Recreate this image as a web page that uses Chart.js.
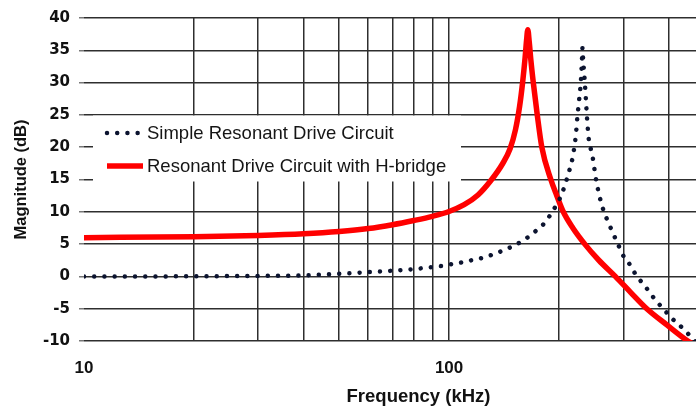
<!DOCTYPE html>
<html>
<head>
<meta charset="utf-8">
<script src="https://cdn.jsdelivr.net/npm/chart.js@4/dist/chart.umd.min.js"></script>
<style>
  html, body { margin: 0; padding: 0; background: #fff; overflow: hidden; width: 696px; height: 410px; }
  #wrap { position: relative; width: 753px; height: 410px; }
</style>
</head>
<body>
<div id="wrap"><canvas id="c" width="753" height="410"></canvas></div>
<script>
// Simple resonant drive circuit: frequency (kHz) and gain (dB)
const freqSimple = [10, 15, 20, 30, 40, 50, 60, 70, 80, 90, 96.3, 102.6, 109.2, 116.4, 124, 132, 140, 148.3, 157.2, 165.6, 174.2, 182.9, 190, 196, 202, 206.6, 210.5, 214.5, 217.8, 222.4, 224.5, 227, 229.5, 231, 232, 232.8, 235, 236.9, 238.8, 241.4, 244.5, 247.6, 252.3, 258.8, 264.2, 276.2, 291.1, 298.6, 311.3, 321.3, 331.5, 345.8, 359.9, 374.8, 392.4, 409.4, 426.7, 450.1, 467.4, 480];
const magSimple  = [0.0, 0.0, 0.02, 0.08, 0.15, 0.4, 0.65, 0.88, 1.13, 1.45, 1.64, 1.95, 2.2, 2.56, 2.9, 3.41, 3.97, 4.58, 5.34, 6.2, 7.2, 8.3, 9.65, 10.9, 12.3, 13.76, 15.2, 16.8, 18.3, 21.8, 24.5, 27.2, 30.0, 33.0, 35.4, 33.8, 30.7, 27.6, 24.4, 21.2, 19.7, 18.3, 15.2, 12.2, 10.4, 7.7, 4.8, 3.4, 2.0, 0.67, -0.4, -1.66, -3.0, -4.2, -5.46, -6.6, -7.5, -8.8, -9.8, -10.3];

// Resonant drive circuit with H-bridge
const freqHBridge = [10, 20, 30, 40, 50, 60, 70, 80, 90, 100, 110, 120, 130, 140, 147, 152, 156, 159, 161.5, 163, 164.3, 165.8, 167.5, 170.1, 174.4, 179.5, 190.0, 197.3, 205.5, 218.3, 235.4, 257.2, 285.3, 314.7, 348.0, 394.9, 450.8, 470];
const magHBridge  = [6.0, 6.15, 6.35, 6.6, 6.95, 7.4, 8.0, 8.65, 9.3, 10.05, 11.1, 12.6, 14.8, 17.4, 19.8, 22.7, 26.3, 30.0, 33.8, 36.5, 38.2, 36.3, 33.5, 30.0, 25.0, 20.0, 15.0, 12.5, 10.0, 7.5, 5.0, 2.5, 0.0, -2.5, -5.0, -7.5, -10.0, -10.6];

const seriesLabels = ['Simple Resonant Drive Circuit', 'Resonant Drive Circuit with H-bridge'];

// Axis ticks
const xTickValues = [10, 20, 30, 40, 50, 60, 70, 80, 90, 100, 200, 300, 400, 500, 600];
const xTickLabels = ['10', '100'];
const yTickMin = -10, yTickMax = 40, yTickStep = 5;

const toPoints = (xs, ys) => xs.map((x, i) => ({ x, y: ys[i] }));

const GRID = '#2e2e2e';
const DOT_COLOR = '#0c1430';
const RED = '#ff0000';

// White legend panel drawn over the grid inside the plot
const legendPanel = {
  id: 'legendPanel',
  beforeDatasetsDraw(chart) {
    const { ctx, chartArea } = chart;
    const left = chartArea.left, top = chartArea.top;
    const ds = chart.data.datasets;
    ctx.save();
    ctx.fillStyle = '#ffffff';
    ctx.fillRect(left + 9, top + 97.5, 368, 66);

    const sx0 = left + 23, tx = left + 63;
    // dotted entry
    ctx.beginPath();
    ctx.strokeStyle = ds[0].borderColor;
    ctx.lineWidth = ds[0].borderWidth;
    ctx.lineCap = 'round';
    ctx.setLineDash(ds[0].borderDash);
    ctx.moveTo(sx0, top + 115);
    ctx.lineTo(sx0 + 30.8, top + 115);
    ctx.stroke();
    // solid entry
    ctx.beginPath();
    ctx.setLineDash([]);
    ctx.lineCap = 'butt';
    ctx.strokeStyle = ds[1].borderColor;
    ctx.lineWidth = ds[1].borderWidth;
    ctx.moveTo(sx0, top + 148);
    ctx.lineTo(sx0 + 36, top + 148);
    ctx.stroke();

    ctx.fillStyle = '#151515';
    ctx.font = '18.5px "Liberation Sans", Arial, sans-serif';
    ctx.textBaseline = 'alphabetic';
    ctx.textAlign = 'left';
    ctx.fillText(ds[0].label, tx, top + 121.3);
    ctx.fillText(ds[1].label, tx, top + 154);
    ctx.restore();
  }
};

Chart.defaults.font.family = '"Liberation Sans", Arial, sans-serif';
Chart.defaults.color = '#111';

new Chart(document.getElementById('c'), {
  type: 'line',
  data: {
    datasets: [
      {
        label: seriesLabels[0],
        data: toPoints(freqSimple, magSimple),
        borderColor: DOT_COLOR,
        borderWidth: 4.5,
        borderDash: [0.01, 10.2],
        borderCapStyle: 'round',
        pointRadius: 0,
        cubicInterpolationMode: 'monotone',
        fill: false
      },
      {
        label: seriesLabels[1],
        data: toPoints(freqHBridge, magHBridge),
        borderColor: RED,
        borderWidth: 5.5,
        borderJoinStyle: 'round',
        pointRadius: 0,
        cubicInterpolationMode: 'monotone',
        fill: false
      }
    ]
  },
  options: {
    responsive: false,
    animation: false,
    devicePixelRatio: 1,
    layout: { padding: { top: 12, left: 0, right: 0, bottom: 0 } },
    plugins: { legend: { display: false }, tooltip: { enabled: false } },
    scales: {
      x: {
        type: 'logarithmic',
        min: 10,
        max: 680,
        afterBuildTicks: s => { s.ticks = xTickValues.map(v => ({ value: v })); },
        afterFit: s => { s.height = 69; },
        border: { display: false },
        grid: {
          color: c => (c.tick && c.tick.value === 10) ? 'rgba(0,0,0,0)' : GRID,
          lineWidth: 1.5,
          drawTicks: false
        },
        ticks: {
          autoSkip: false,
          maxRotation: 0,
          padding: 17,
          color: '#111',
          font: { size: 17, weight: 'bold' },
          callback: v => xTickLabels.includes(String(v)) ? String(v) : ''
        },
        title: {
          display: true,
          text: 'Frequency (kHz)',
          color: '#111',
          font: { size: 18.5, weight: 'bold' },
          padding: { top: 0, bottom: 2 }
        }
      },
      y: {
        min: yTickMin,
        max: yTickMax,
        afterFit: s => { s.width = 84; },
        border: { display: false },
        grid: { color: GRID, lineWidth: 1.5, tickLength: 5, tickColor: '#777', tickWidth: 1.5 },
        ticks: {
          stepSize: yTickStep,
          padding: 9,
          color: '#111',
          font: { family: '"DejaVu Sans", "Liberation Sans", sans-serif', size: 15, weight: 'bold' }
        },
        title: {
          display: true,
          text: 'Magnitude (dB)',
          color: '#111',
          font: { size: 16.5, weight: 'bold' },
          padding: { top: 12, bottom: 0 }
        }
      }
    }
  },
  plugins: [legendPanel]
});
</script>
</body>
</html>
